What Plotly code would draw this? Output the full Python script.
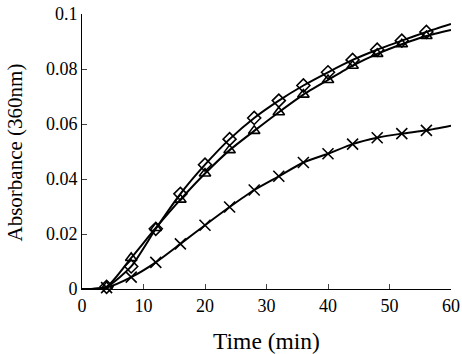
import plotly.graph_objects as go

# Measured points
time_pts = [4, 8, 12, 16, 20, 24, 28, 32, 36, 40, 44, 48, 52, 56]
diamond_vals = [0.0008, 0.0082, 0.0219, 0.0346, 0.0452, 0.0545, 0.0622, 0.0685, 0.0740, 0.0788, 0.0833, 0.0870, 0.0903, 0.0935]
triangle_vals = [0.0008, 0.0113, 0.0222, 0.0325, 0.0420, 0.0505, 0.0575, 0.0643, 0.0707, 0.0760, 0.0812, 0.0855, 0.0890, 0.0920]
cross_vals = [0.0005, 0.0043, 0.0097, 0.0164, 0.0232, 0.0298, 0.0360, 0.0410, 0.0460, 0.0492, 0.0527, 0.0550, 0.0565, 0.0577]

# Fitted curves (extend from 0 to 60 min)
fit_time = [0] + time_pts + [60]
diamond_fit = [0.0] + diamond_vals + [0.0964]
triangle_fit = [0.0] + triangle_vals + [0.0942]
cross_fit = [0.0] + cross_vals + [0.0594]

x_ticks = [0, 10, 20, 30, 40, 50, 60]
y_ticks = [0, 0.02, 0.04, 0.06, 0.08, 0.1]
y_tick_text = ["0", "0.02", "0.04", "0.06", "0.08", "0.1"]

fig = go.Figure()
for fv in [diamond_fit, triangle_fit, cross_fit]:
    fig.add_trace(go.Scatter(x=fit_time, y=fv, mode="lines",
                             line=dict(color="black", width=2, shape="spline", smoothing=0.6),
                             showlegend=False, hoverinfo="skip", cliponaxis=False))

for vals, sym, size in [(diamond_vals, "diamond-open", 10),
                        (triangle_vals, "triangle-up-open", 10),
                        (cross_vals, "x-thin", 11)]:
    fig.add_trace(go.Scatter(x=time_pts, y=vals, mode="markers",
                             marker=dict(symbol=sym, size=size, color="black",
                                         line=dict(color="black", width=1.6)),
                             showlegend=False, cliponaxis=False))

font_family = "Liberation Serif"
fig.update_layout(
    width=462, height=354,
    margin=dict(l=82, r=11, t=14, b=65),
    paper_bgcolor="white", plot_bgcolor="white",
    font=dict(family=font_family, color="black", size=18),
    xaxis=dict(range=[0, 60], tickvals=x_ticks, ticks="inside", ticklen=5,
               showline=True, linecolor="black", linewidth=1, showgrid=False, zeroline=False,
               automargin=False,
               tickfont=dict(size=18, family=font_family),
               title=dict(text="Time (min)", font=dict(size=23.5, family=font_family), standoff=20)),
    yaxis=dict(range=[0, 0.1], tickvals=y_ticks, ticktext=y_tick_text, ticks="inside", ticklen=5,
               showline=True, linecolor="black", linewidth=1, showgrid=False, zeroline=False,
               automargin=False,
               tickfont=dict(size=18, family=font_family)),
    annotations=[dict(text="Absorbance (360nm)", textangle=-90, xref="paper", yref="paper",
                      x=-0.1816, y=0.5, xanchor="center", yanchor="middle", showarrow=False,
                      yshift=-1, font=dict(size=21, family=font_family, color="black"))],
)

fig.write_html("out.html", config={"displayModeBar": False},
               post_script="document.body.style.margin='0';document.body.style.overflow='hidden';")
